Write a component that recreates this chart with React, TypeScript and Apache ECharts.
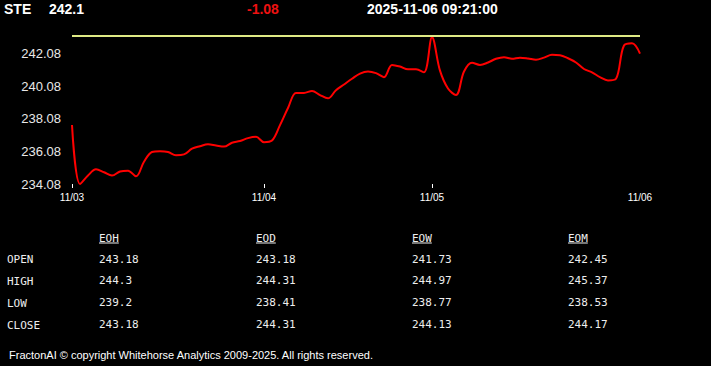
import React, { useEffect, useRef } from "react";
import * as echarts from "echarts";

// ---- header ----
const symbol = "STE";
const lastPrice = "242.1";
const change = "-1.08";
const timestamp = "2025-11-06 09:21:00";

// ---- intraday price series (one point per sample) ----
const prices = [
  237.71, 234.08, 234.6, 234.98, 234.8, 234.6, 234.85, 234.9, 234.55, 235.45,
  236.05, 236.1, 236.05, 235.85, 235.9, 236.25, 236.4, 236.52, 236.45, 236.38,
  236.62, 236.72, 236.9, 236.98, 236.65, 236.75, 237.7, 238.75, 239.68, 239.68,
  239.8, 239.55, 239.35, 239.85, 240.2, 240.55, 240.87, 241.0, 240.9, 240.65,
  241.4, 241.3, 241.13, 241.13, 240.95, 243.1, 241.05, 239.95, 239.55, 241.0,
  241.54, 241.4, 241.55, 241.78, 241.88, 241.78, 241.85, 241.8, 241.72, 241.85,
  242.02, 242.0, 241.81, 241.55, 241.15, 240.95, 240.65, 240.45, 240.55, 242.6,
  242.73, 242.1,
];
const previousClose = 243.18;

// ---- axes ----
const dayLabels = ["11/03", "11/04", "11/05", "11/06"];
const dayIndices = [0, 24, 45, 71];
const dayTickIndices = [0, 24, 45];
const yTicks = [234.08, 236.08, 238.08, 240.08, 242.08];
const yMin = 234.08;
const yMax = 243.18;

// ---- summary table ----
const tableColumns = ["EOH", "EOD", "EOW", "EOM"];
const tableRows = ["OPEN", "HIGH", "LOW", "CLOSE"];
const eohValues = ["243.18", "244.3", "239.2", "243.18"];
const eodValues = ["243.18", "244.31", "238.41", "244.31"];
const eowValues = ["241.73", "244.97", "238.77", "244.13"];
const eomValues = ["242.45", "245.37", "238.53", "244.17"];
const footer = "FractonAI \u00a9 copyright Whitehorse Analytics 2009-2025. All rights reserved.";

export default function App() {
  const ref = useRef<HTMLDivElement>(null);

  useEffect(() => {
    if (!ref.current) return;
    const chart = echarts.init(ref.current, null, { renderer: "svg" });

    const txt = (
      text: string,
      x: number,
      y: number,
      font: string,
      fill: string,
      align: string = "left"
    ) => ({
      type: "text",
      x,
      y,
      silent: true,
      style: {
        text,
        font,
        fill,
        align,
        textAlign: align,
        verticalAlign: "middle",
        textVerticalAlign: "middle",
      },
    });

    const headerFont = "bold 14px Arial, 'Liberation Sans', sans-serif";
    const monoFont = "11px 'DejaVu Sans Mono', monospace";
    const colX = [99, 256, 412, 568];
    const rowY = [259, 280.5, 302.5, 324.5];
    const colValues = [eohValues, eodValues, eowValues, eomValues];

    const graphics: any[] = [
      txt(symbol, 4, 9, headerFont, "#ffffff"),
      txt(lastPrice, 49, 9, headerFont, "#ffffff"),
      txt(change, 247, 9, headerFont, "#ee1111"),
      txt(timestamp, 367, 9, headerFont, "#ffffff"),
    ];
    tableColumns.forEach((c, ci) => {
      graphics.push(txt(c, colX[ci], 238, monoFont, "#eeeeee"));
      graphics.push({
        type: "line",
        silent: true,
        shape: { x1: colX[ci], y1: 243, x2: colX[ci] + c.length * 6.6, y2: 243 },
        style: { stroke: "#eeeeee", lineWidth: 1 },
      });
      colValues[ci].forEach((v, ri) => {
        graphics.push(txt(v, colX[ci], rowY[ri], monoFont, "#eeeeee"));
      });
    });
    tableRows.forEach((r, ri) => {
      graphics.push(txt(r, 7, rowY[ri] + 0.5, monoFont, "#eeeeee"));
    });
    graphics.push(txt(footer, 9, 355, "11px Arial, 'Liberation Sans', sans-serif", "#ffffff"));

    chart.setOption({
      animation: false,
      backgroundColor: "#000000",
      grid: { left: 72, right: 71, top: 36, bottom: 182 },
      xAxis: {
        type: "value",
        min: 0,
        max: prices.length - 1,
        splitLine: { show: false },
        axisLine: { show: false },
        axisTick: {
          show: true,
          customValues: dayTickIndices,
          length: 4,
          lineStyle: { color: "#ffffff", width: 1 },
        },
        axisLabel: {
          customValues: dayIndices,
          color: "#ffffff",
          fontSize: 10,
          fontFamily: "Arial, 'Liberation Sans', sans-serif",
          margin: 8,
          formatter: (v: number) => {
            const k = dayIndices.indexOf(Math.round(v));
            return k >= 0 ? dayLabels[k] : "";
          },
        },
      },
      yAxis: {
        type: "value",
        min: yMin,
        max: yMax,
        splitLine: { show: false },
        axisLine: { show: false },
        axisTick: { show: false },
        axisLabel: {
          customValues: yTicks,
          color: "#e8e8e8",
          fontSize: 13,
          fontFamily: "Arial, 'Liberation Sans', sans-serif",
          margin: 11,
          formatter: (v: number) => v.toFixed(2),
        },
      },
      series: [
        {
          type: "line",
          data: prices.map((p, i) => [i, p]),
          smooth: 0.35,
          showSymbol: false,
          lineStyle: { color: "#ff0000", width: 2 },
          markLine: {
            silent: true,
            symbol: "none",
            label: { show: false },
            lineStyle: { color: "#dfea85", width: 2, type: "solid" },
            data: [{ yAxis: previousClose }],
          },
        },
      ],
      graphic: graphics,
    });

    return () => chart.dispose();
  }, []);

  return (
    <div
      ref={ref}
      style={{ position: "fixed", left: 0, top: 0, width: 711, height: 366 }}
    />
  );
}
